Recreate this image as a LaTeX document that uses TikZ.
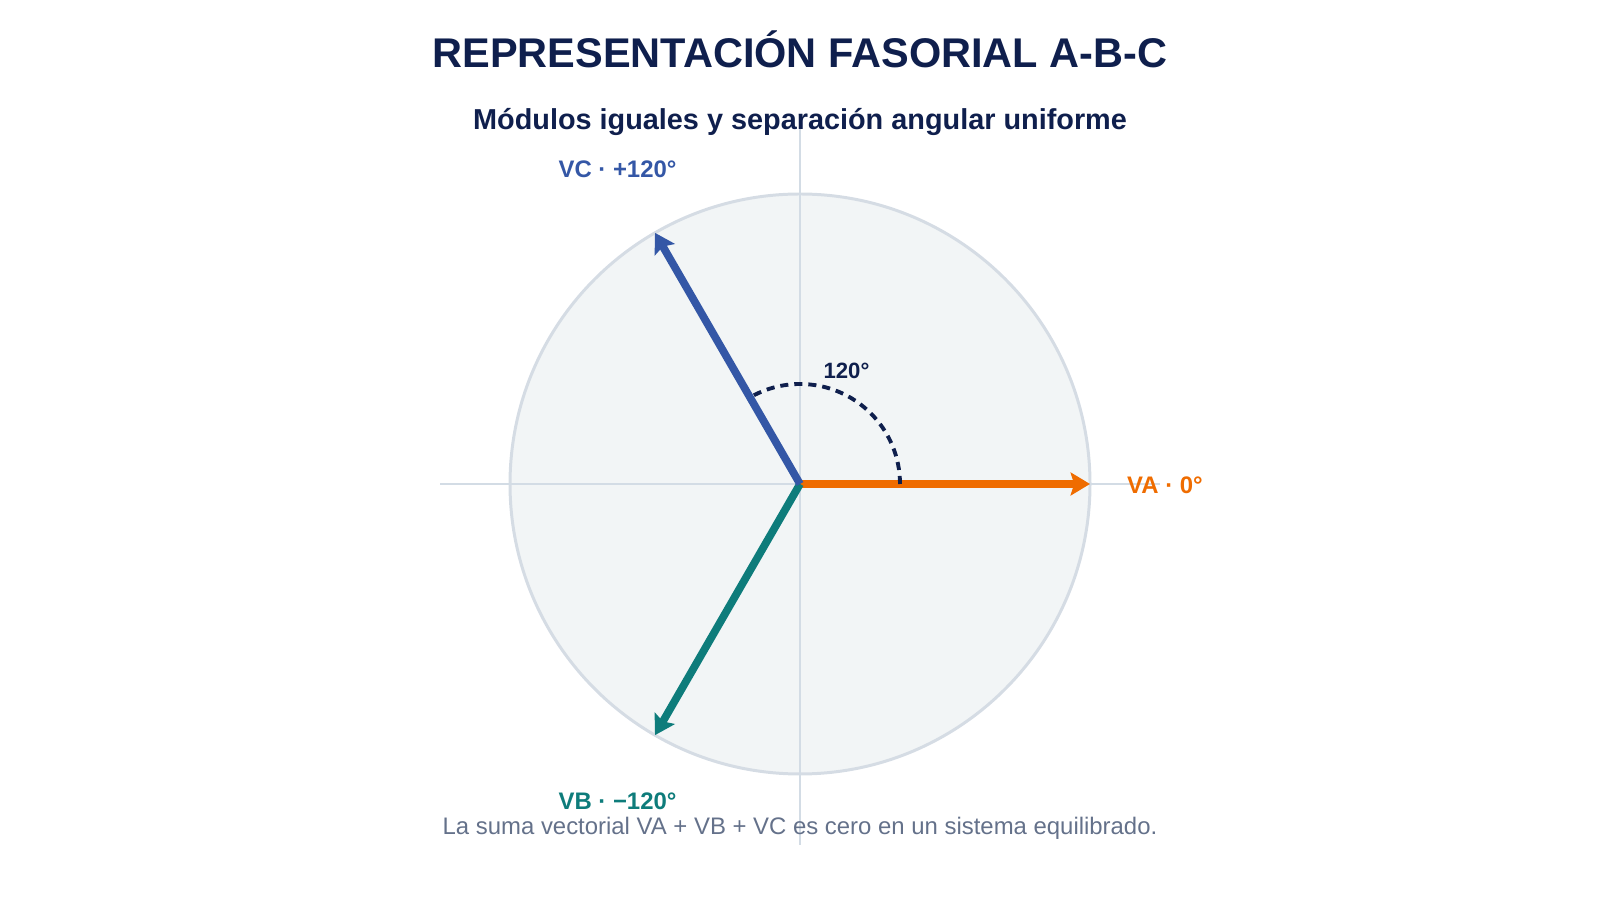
\documentclass[tikz,border=0pt]{standalone}
\usepackage{fontspec}
\setmainfont{Liberation Sans}
\usepackage{tikz}
\usetikzlibrary{arrows.meta,calc}

\definecolor{navy}{HTML}{0F1F4D}
\definecolor{phaseA}{HTML}{EF6C00}
\definecolor{phaseB}{HTML}{0E7C7B}
\definecolor{phaseC}{HTML}{3457A6}
\definecolor{disc}{HTML}{F2F5F6}
\definecolor{ring}{HTML}{D5DCE4}
\definecolor{axisgray}{HTML}{D3DCE5}
\definecolor{notegray}{HTML}{64718A}

\tikzset{
  phasor/.style={line width=2.2pt, -{Stealth[length=5.5pt,width=6.5pt,inset=1pt]}},
  phaselabel/.style={inner sep=0pt, text height=0.72em, text depth=0pt, yshift=0.9pt,
    font=\fontsize{6.8}{8}\selectfont\bfseries},
  axisline/.style={line width=0.55pt, draw=axisgray}
}

\begin{document}
\begin{tikzpicture}[x=0.01cm,y=0.01cm]
        \useasboundingbox (0,0) rectangle (1600,900);
        \coordinate (O) at (800,416);

        % headings
        \node[anchor=base, navy, font=\fontsize{11.8}{14}\selectfont\bfseries] (title) at (800,832) {REPRESENTACIÓN FASORIAL A-B-C};
        \node[anchor=base, navy, font=\fontsize{8.2}{10}\selectfont\bfseries] (subtitle) at (800,770) {Módulos iguales y separación angular uniforme};

        \draw[line width=0.85pt, draw=ring, fill=disc] (O) circle (290);

        \coordinate (W) at ($(O)+(-360,0)$);
        \coordinate (E) at ($(O)+(360,0)$);
        \coordinate (N) at ($(O)+(0,355)$);
        \coordinate (S) at ($(O)+(0,-361)$);
        \draw[axisline] (W) -- (E);
        \draw[axisline] (N) -- (S);

        \coordinate (A) at ($(O)+(0:290)$);
        \coordinate (B) at ($(O)+(-120:290)$);
        \coordinate (C) at ($(O)+(120:290)$);
        \draw[phasor, phaseA] (O) -- (A);
        \draw[phasor, phaseB] (O) -- (B);
        \draw[phasor, phaseC] (O) -- (C);

        \coordinate (arcstart) at ($(O)+(0:100)$);
        \draw[navy, line width=1.1pt, dash pattern=on 2.3pt off 1.7pt] (arcstart) arc[start angle=0, end angle=120, radius=100];
        \node[phaselabel, navy, font=\fontsize{6.3}{8}\selectfont\bfseries] (angle) at ($(O)+(68:124)$) {120°};

        \node[phaselabel, phaseA] (labelA) at ($(O)+(0:365)$) {VA · 0°};
        \node[phaselabel, phaseB] (labelB) at ($(O)+(-120:365)$) {VB · −120°};
        \node[phaselabel, phaseC] (labelC) at ($(O)+(120:365)$) {VC · +120°};

        \node[anchor=base, notegray, font=\fontsize{6.8}{8}\selectfont] (note) at (800,65) {La suma vectorial VA + VB + VC es cero en un sistema equilibrado.};

    \end{tikzpicture}
\end{document}
